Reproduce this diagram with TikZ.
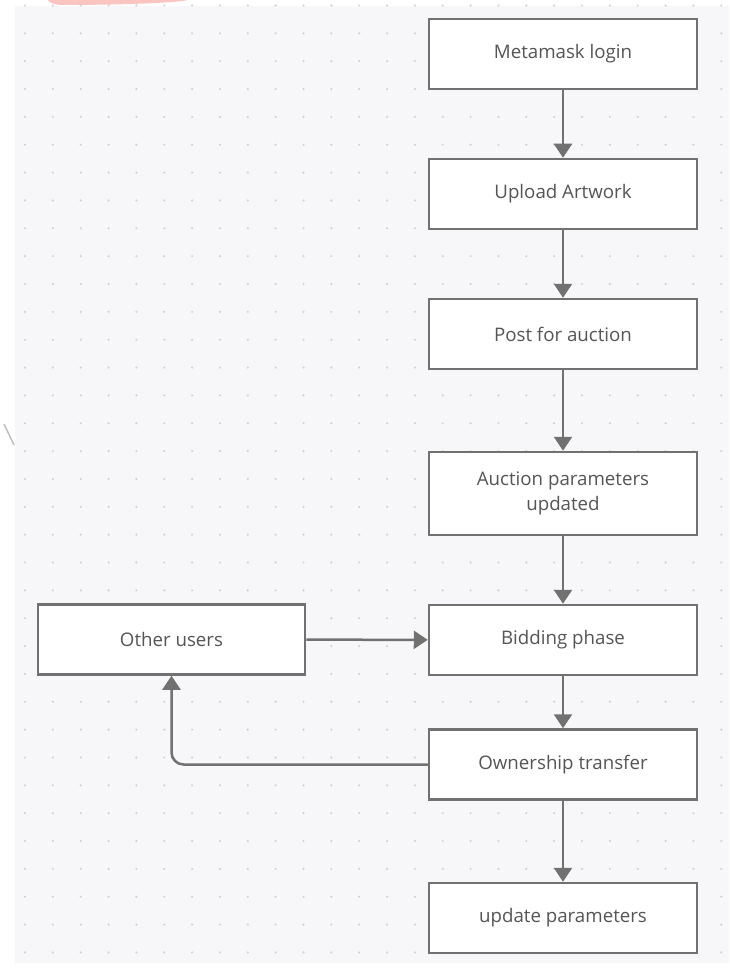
\documentclass[tikz,border=0pt]{standalone}
\usepackage{fontspec}
\setmainfont{Open Sans}
\usetikzlibrary{arrows.meta}
\definecolor{bggray}{HTML}{F7F7F9}
\definecolor{dotgray}{HTML}{D2D2D6}
\definecolor{linegray}{HTML}{717171}
\definecolor{textgray}{HTML}{555555}
\definecolor{pinkmark}{HTML}{FAC4C0}
\tikzset{
  box/.style={draw=linegray, line width=2.5pt, fill=white, minimum width=268pt, minimum height=70pt,
    inner sep=0pt, font=\fontsize{18.7}{25}\selectfont, text=textgray, align=center},
  conn/.style={draw=linegray, line width=2.5pt, -{Triangle[width=18pt,length=14pt]}},
}
\begin{document}
\begin{tikzpicture}[x=1pt,y=-1pt]
\useasboundingbox (0,0) rectangle (729,968);
\fill[white] (0,0) rectangle (729,968);
\fill[bggray] (15,6) rectangle (729,963);
\foreach \i in {0,...,25}{
  \foreach \j in {0,...,34}{
    \fill[dotgray] ({25+27.85*\i},{5.5+27.85*\j}) circle (1.2);
  }
}
% scan artefacts
\fill[pinkmark] (48,0) -- (188,0) .. controls (175,3) and (120,5) .. (60,5) .. controls (52,4) and (49,2) .. (48,0) -- cycle;
\draw[gray!50, line width=1.5pt] (4,424) -- (14,445);

\node[box] (login) at (563,54) {Metamask login};
\node[box] (upload) at (563,194) {Upload Artwork};
\node[box] (post) at (563,334) {Post for auction};
\node[box, minimum height=83pt] (params) at (563,493.5) {Auction parameters\\updated};
\node[box] (bid) at (563,640) {Bidding phase};
\node[box] (own) at (563,764.5) {Ownership transfer};
\node[box] (upd) at (563,918) {update parameters};
\node[box, minimum width=267pt] (other) at (171.5,639.5) {Other users};

\draw[conn] (login) -- (upload);
\draw[conn] (upload) -- (post);
\draw[conn] (post) -- (params);
\draw[conn] (params) -- (bid);
\draw[conn] (bid) -- (own);
\draw[conn] (own) -- (upd);
\draw[conn] (other) -- (bid);
\draw[conn, rounded corners=12pt] (own.west) -| (other.south);
\end{tikzpicture}
\end{document}
